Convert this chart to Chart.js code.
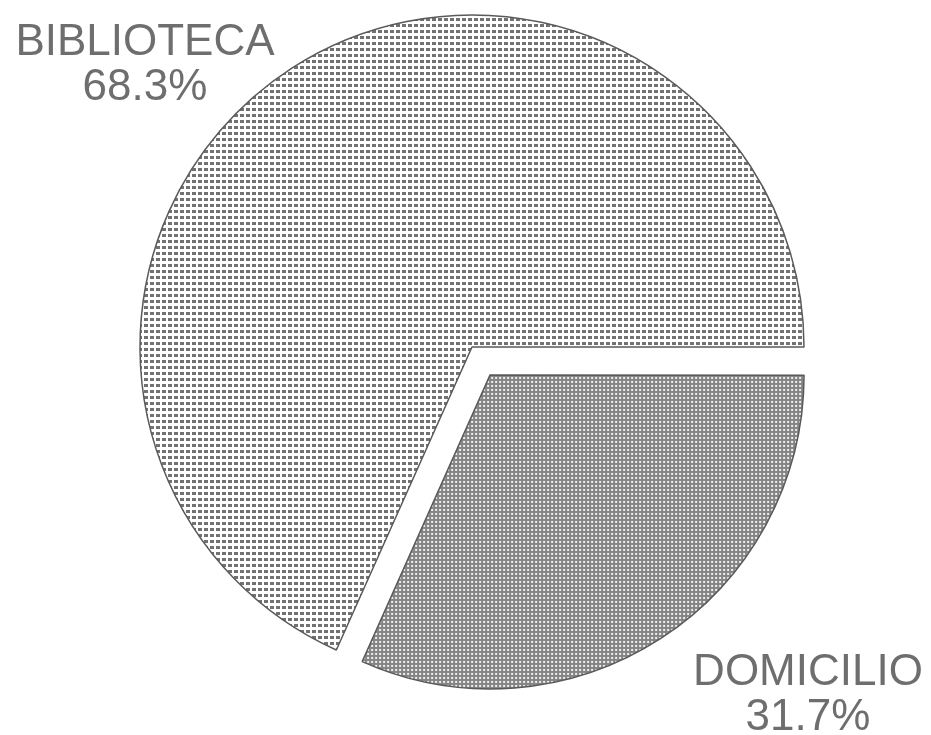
<!DOCTYPE html>
<html>
<head>
<meta charset="utf-8">
<script src="https://cdn.jsdelivr.net/npm/chart.js@4"></script>
<style>
  html, body { margin: 0; padding: 0; background: #fff; }
  #wrap { width: 931px; height: 735px; }
</style>
</head>
<body>
<div id="wrap"><canvas id="pieChart" width="931" height="735"></canvas></div>
<script>
const categories = ["DOMICILIO", "BIBLIOTECA"];
const shares = [31.7, 68.3];

// canvas tiles used as slice fills
function makePattern(size, bg, fg, rect) {
    const c = document.createElement("canvas");
    c.width = size; c.height = size;
    const g = c.getContext("2d");
    g.fillStyle = bg;
    g.fillRect(0, 0, size, size);
    g.fillStyle = fg;
    g.fillRect(rect[0], rect[1], rect[2], rect[3]);
    return g.createPattern(c, "repeat");
}

const ctx = document.getElementById("pieChart").getContext("2d");
const gridFill = makePattern(6, "#ffffff", "#727272", [0, 0, 4, 3]);
const dotFill = makePattern(4, "#858585", "#f0f0f0", [1, 1, 2, 2]);

// the pulled-out slice is drawn a bit smaller than the rest
const shrinkExploded = {
    id: "shrinkExploded",
    afterDatasetUpdate(chart, args) {
        const arc = args.meta.data[0];
        if (arc) arc.outerRadius = arc.outerRadius * 0.937;
    }
};

const sliceLabels = {
    id: "sliceLabels",
    afterDraw(chart) {
        const c = chart.ctx;
        c.save();
        c.fillStyle = "#6e6e6e";
        c.font = "200 44px 'Liberation Sans', Arial, sans-serif";
        c.textAlign = "center";
        c.textBaseline = "alphabetic";
        const spots = [[808, 685], [145, 55]];
        categories.forEach(function (name, i) {
            const p = spots[i];
            c.fillText(name, p[0], p[1]);
            c.fillText(shares[i].toFixed(1) + "%", p[0], p[1] + 45);
        });
        c.restore();
    }
};

new Chart(ctx, {
    type: "pie",
    data: {
        labels: categories,
        datasets: [{
            data: shares,
            backgroundColor: [dotFill, gridFill],
            borderColor: "#5a5a5a",
            borderWidth: 1.5,
            offset: [133, 0],
            radius: 332
        }]
    },
    options: {
        responsive: false,
        animation: false,
        rotation: 90,
        layout: { padding: { left: 13, right: 0, top: 0, bottom: 41 } },
        plugins: {
            legend: { display: false },
            tooltip: { enabled: false }
        }
    },
    plugins: [shrinkExploded, sliceLabels]
});
</script>
</body>
</html>
